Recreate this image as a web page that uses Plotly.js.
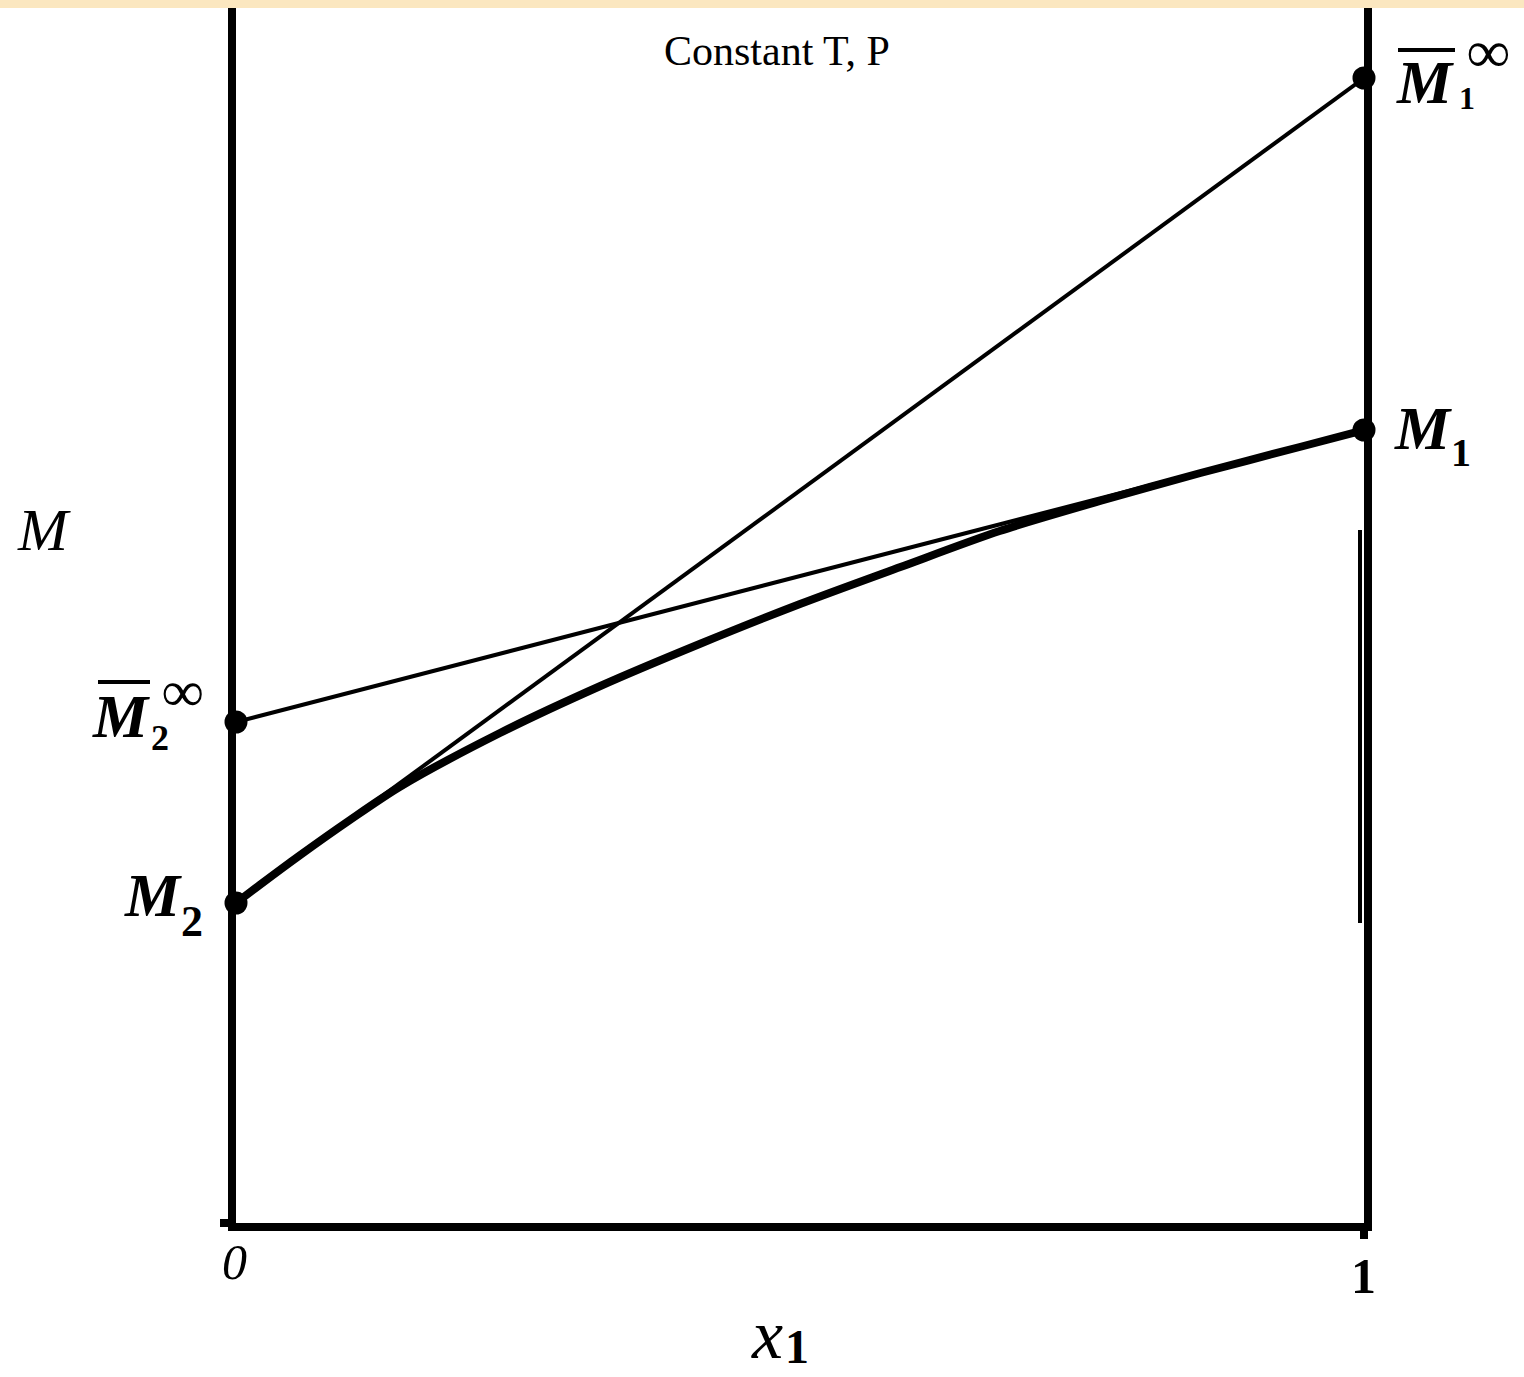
<!DOCTYPE html>
<html>
<head>
<meta charset="utf-8">
<script src="https://cdn.plot.ly/plotly-3.0.1.min.js"></script>
<style>
  html, body { margin: 0; padding: 0; background: #ffffff; }
  #chart { width: 1524px; height: 1377px; }
</style>
</head>
<body>
<div id="chart"></div>
<script>
// Molar property M of a binary mixture vs. mole fraction x1 (constant T, P)
const x1Curve = [0, 0.021, 0.057, 0.101, 0.145, 0.234, 0.323, 0.411, 0.500, 0.589, 0.677, 0.766, 0.855, 0.943, 1];
const mCurve  = [3.20, 3.38, 3.68, 4.03, 4.36, 4.90, 5.37, 5.79, 6.19, 6.56, 6.92, 7.22, 7.50, 7.76, 7.93];

// Pure-component and infinite-dilution values
const M2 = 3.20;
const M2inf = 5.01;
const M1 = 7.93;
const M1inf = 11.45;

const tickVals = [0, 1];
const tickLabels = ['<i>0</i>', '<b>1</b>'];

const serif = 'Liberation Serif, Times New Roman, serif';

const traces = [
  { // mixture curve
    x: x1Curve, y: mCurve, mode: 'lines', type: 'scatter',
    line: { color: '#000', width: 8, shape: 'spline', smoothing: 0.8 },
    hoverinfo: 'skip', cliponaxis: false
  },
  { // tangent at x1 = 0
    x: [0, 1], y: [M2, M1inf], mode: 'lines', type: 'scatter',
    line: { color: '#000', width: 4 }, hoverinfo: 'skip', cliponaxis: false
  },
  { // tangent at x1 = 1
    x: [0, 1], y: [M2inf, M1], mode: 'lines', type: 'scatter',
    line: { color: '#000', width: 4 }, hoverinfo: 'skip', cliponaxis: false
  },
  { // end-point markers
    x: [1, 1, 0, 0], y: [M1inf, M1, M2inf, M2], mode: 'markers', type: 'scatter',
    marker: { color: '#000', size: 23 }, hoverinfo: 'skip', cliponaxis: false
  }
];

// paper-coordinate helpers for labels placed around the plot frame
const PLOT_L = 236, PLOT_R = 1364, PLOT_T = 8, PLOT_B = 1223;
const X = px => (px - PLOT_L) / (PLOT_R - PLOT_L);
const Y = py => (PLOT_B - py) / (PLOT_B - PLOT_T);

function label(text, px, py, size) {
  return {
    x: X(px), y: Y(py), xref: 'paper', yref: 'paper', text: text, showarrow: false,
    xanchor: 'center', yanchor: 'middle',
    font: { family: serif, size: size, color: '#000' }
  };
}

const annotations = [
  // M̄1∞
  label('<b><i>M</i></b>', 1425, 82, 62),
  label('<b>1</b>', 1467, 98, 32),
  label('<b>∞</b>', 1488, 52, 60),
  // M1
  label('<b><i>M</i></b>', 1423, 428, 62),
  label('<b>1</b>', 1461, 452, 40),
  // M̄2∞
  label('<b><i>M</i></b>', 121, 716, 62),
  label('<b>2</b>', 160, 738, 36),
  label('<b>∞</b>', 182, 692, 58),
  // M2
  label('<b><i>M</i></b>', 153, 895, 62),
  label('<b>2</b>', 192, 922, 44),
  // y label
  label('<i>M</i>', 44, 530, 60),
  // tick labels
  label(tickLabels[0], 234, 1262, 50),
  label(tickLabels[1], 1363, 1276, 50),
  // x-axis title
  label('<i>x</i>', 767, 1334, 70),
  label('<b>1</b>', 797, 1346, 48)
];

const shapes = [
  // top band of the page
  { type: 'rect', xref: 'paper', yref: 'paper', x0: -1, x1: 2, y0: 1, y1: 1.05,
    fillcolor: '#FBE7C0', line: { width: 0 }, layer: 'below' },
  // overbars
  { type: 'line', xref: 'paper', yref: 'paper', x0: X(1398), x1: X(1455), y0: Y(50), y1: Y(50),
    line: { color: '#000', width: 4 } },
  { type: 'line', xref: 'paper', yref: 'paper', x0: X(98), x1: X(150), y0: Y(682), y1: Y(682),
    line: { color: '#000', width: 4 } },
  // inner stroke along the right edge
  { type: 'line', xref: 'paper', yref: 'paper', x0: X(1360), x1: X(1360), y0: Y(530), y1: Y(923),
    line: { color: '#000', width: 4 } }
];

const layout = {
  width: 1524, height: 1377,
  margin: { l: PLOT_L, r: 1524 - PLOT_R, t: PLOT_T, b: 1377 - PLOT_B, pad: 0 },
  paper_bgcolor: '#ffffff', plot_bgcolor: '#ffffff',
  showlegend: false,
  title: {
    text: 'Constant T, P', x: 777 / 1524, xref: 'container', xanchor: 'center',
    y: 1 - 50 / 1377, yref: 'container', yanchor: 'middle',
    font: { family: serif, size: 42, color: '#000' }
  },
  xaxis: {
    range: [0, 1], showgrid: false, zeroline: false,
    showline: true, linecolor: '#000', linewidth: 8,
    tickvals: tickVals, showticklabels: false, ticks: '',
    minor: { tickvals: [1], ticks: 'outside', ticklen: 8, tickwidth: 8, tickcolor: '#000' },
    fixedrange: true
  },
  yaxis: {
    range: [0, 12.15], showgrid: false, zeroline: false,
    showline: true, mirror: true, linecolor: '#000', linewidth: 8,
    showticklabels: false, ticks: '',
    minor: { tickvals: [0], ticks: 'outside', ticklen: 8, tickwidth: 8, tickcolor: '#000' },
    fixedrange: true
  },
  annotations: annotations,
  shapes: shapes
};

Plotly.newPlot('chart', traces, layout, { displayModeBar: false, staticPlot: true });
</script>
</body>
</html>
